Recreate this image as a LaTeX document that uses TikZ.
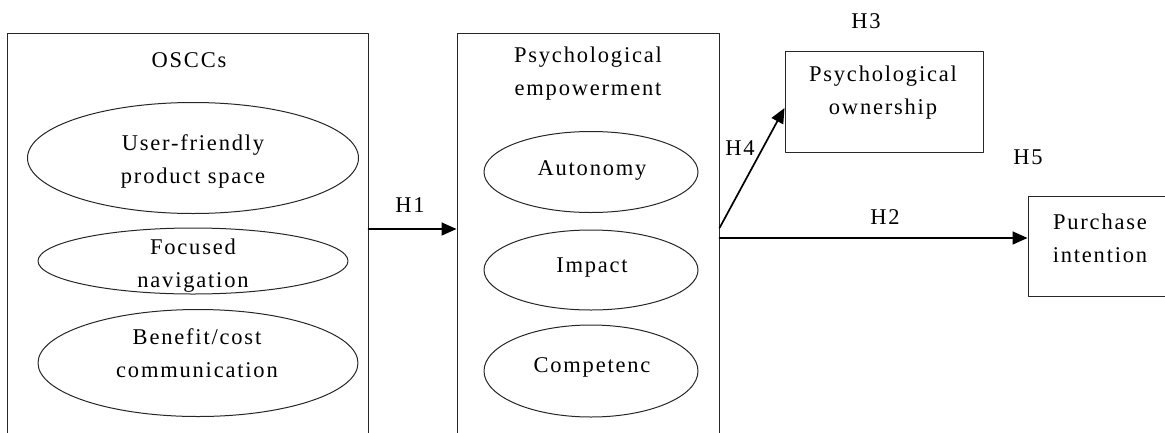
\documentclass[tikz,border=0pt]{standalone}
\usepackage{fontspec}
\setmainfont{Liberation Serif}[LetterSpace=8]
\usetikzlibrary{arrows.meta,shapes.geometric}

\begin{document}
\begin{tikzpicture}[x=1pt,y=-1pt,line cap=round,line join=round,
    box/.style={draw=black!85,line width=1pt,inner sep=0pt},
    oval/.style={draw=black!85,ellipse,line width=1pt,inner sep=0pt},
    txt/.style={align=center,font=\fontsize{22.5}{33}\selectfont,inner sep=0pt},
    arr/.style={-{Triangle[length=15pt,width=13pt]},line width=1.7pt}]
    \useasboundingbox (0,0) rectangle (1165,432);
    % boxes
    \node[box,minimum width=361pt,minimum height=437pt] (oscc) at (187.5,251.5) {};
    \node[box,minimum width=262pt,minimum height=437pt] (psy) at (588,251.5) {};
    \node[box,minimum width=198pt,minimum height=101pt] (po) at (884,101.5) {};
    \node[box,minimum width=172pt,minimum height=100pt] (pi) at (1114,246) {};
    % ellipses
    \node[oval,minimum width=331pt,minimum height=111pt] (ufps) at (193,158) {};
    \node[oval,minimum width=310pt,minimum height=66pt] (fnav) at (193,261) {};
    \node[oval,minimum width=320pt,minimum height=107pt] (bcc) at (198,363) {};
    \node[oval,minimum width=214pt,minimum height=81pt] (aut) at (591,172) {};
    \node[oval,minimum width=214pt,minimum height=80pt] (imp) at (591,270) {};
    \node[oval,minimum width=214pt,minimum height=92pt] (comp) at (591,371) {};
    % texts
    \node[txt] (t-oscc) at (189,60) {OSCCs};
    \node[txt] (t-psy) at (588,74) {Psychological\\empowerment};
    \node[txt] (t-po) at (883,93) {Psychological\\ownership};
    \node[txt] (t-pi) at (1100,238) {Purchase\\intention};
    \node[txt] (t-ufps) at (193,161) {User-friendly\\product space};
    \node[txt] (t-fnav) at (193,266) {Focused\\navigation};
    \node[txt] (t-bcc) at (197,353) {Benefit/cost\\communication};
    \node[txt] (t-aut) at (592,170) {Autonomy};
    \node[txt] (t-imp) at (592,268) {Impact};
    \node[txt] (t-comp) at (592,367) {Competenc};
    % arrows
    \coordinate (h1) at (0,229);
    \coordinate (h2) at (0,238);
    \coordinate (h4a) at (0,228);
    \coordinate (h4b) at (0,108);
    \draw[arr] (oscc.east |- h1) -- (psy.west |- h1);
    \draw[arr] (psy.east |- h2) -- (pi.west |- h2);
    \draw[arr] (psy.east |- h4a) -- (po.west |- h4b);
    % hypothesis labels
    \node[txt] (l-h1) at (410,205) {H1};
    \node[txt] (l-h2) at (885,217) {H2};
    \node[txt] (l-h3) at (866,21) {H3};
    \node[txt] (l-h4) at (740,148) {H4};
    \node[txt] (l-h5) at (1028,157) {H5};
\end{tikzpicture}
\end{document}
